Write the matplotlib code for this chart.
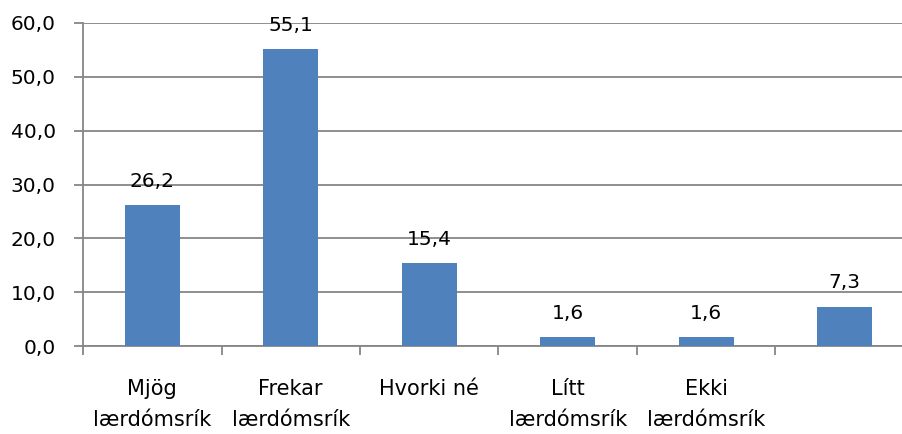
import matplotlib.pyplot as plt
from matplotlib.ticker import FuncFormatter

categories = ['Mjög\nlærdómsrík', 'Frekar\nlærdómsrík', 'Hvorki né',
              'Lítt\nlærdómsrík', 'Ekki\nlærdómsrík', '']
values = [26.2, 55.1, 15.4, 1.6, 1.6, 7.3]
yticks = [0, 10, 20, 30, 40, 50, 60]

plt.rcParams['font.family'] = ['DejaVu Sans']
grey = '#868686'

fig = plt.figure(figsize=(9.02, 4.34), dpi=100)
# plot area runs past the right edge of the picture, as in the original
ax = fig.add_axes([83 / 902, 88 / 434, 831 / 902, 323 / 434])

x = list(range(len(values)))
bars = ax.bar(x, values, width=0.4, color='#4F81BD', zorder=3)
for b, v in zip(bars, values):
    ax.text(b.get_x() + b.get_width() / 2, v + 3.4, f'{v:.1f}'.replace('.', ','),
            ha='center', va='baseline', fontsize=14.5)

ax.set_xlim(-0.5, len(values) - 0.5)
ax.set_ylim(0, 60)
ax.set_yticks(yticks)
ax.yaxis.set_major_formatter(FuncFormatter(lambda v, p: f'{v:.1f}'.replace('.', ',')))
ax.set_xticks([i - 0.5 for i in range(len(values) + 1)])
ax.set_xticklabels([])
ax.set_xticks(x, minor=True)
ax.set_xticklabels(categories, minor=True, fontsize=15, linespacing=1.65)
ax.tick_params(axis='x', which='minor', length=0, pad=24)
ax.tick_params(axis='x', which='major', length=6.5, color=grey, width=1.3)
ax.tick_params(axis='y', length=6.5, color=grey, width=1.3, labelsize=14.5, pad=13)

ax.grid(axis='y', color=grey, linewidth=1.3, zorder=0)
for s in ['top', 'right']:
    ax.spines[s].set_visible(False)
ax.spines['left'].set_color(grey)
ax.spines['bottom'].set_color(grey)
ax.spines['left'].set_linewidth(1.3)
ax.spines['bottom'].set_linewidth(1.3)

fig.savefig('out.png', dpi=100)
